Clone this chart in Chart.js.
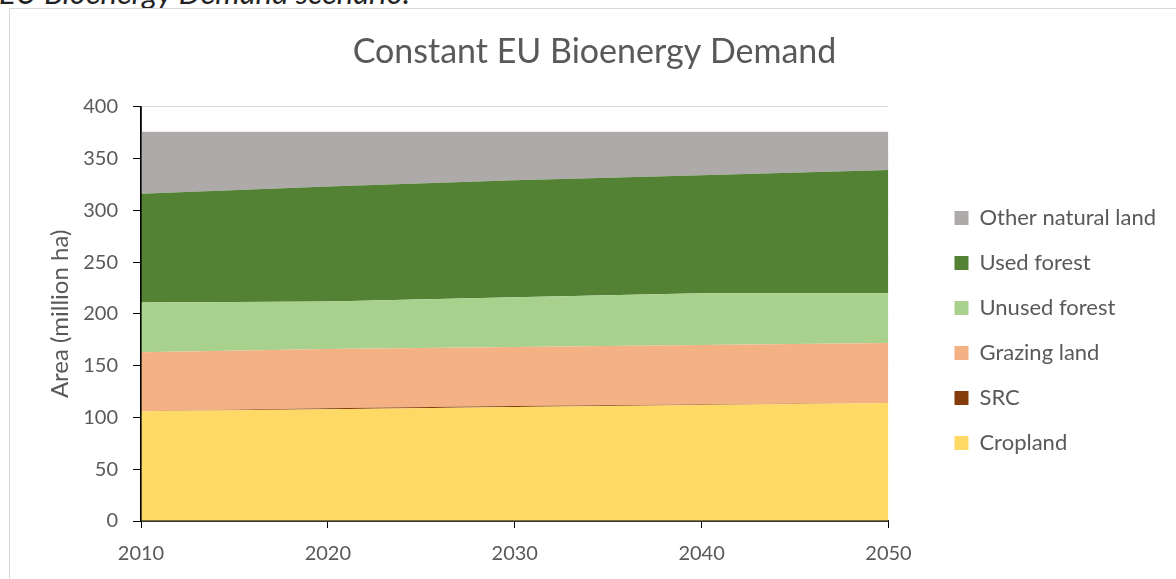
<!DOCTYPE html>
<html>
<head>
<meta charset="utf-8">
<script src="https://cdn.jsdelivr.net/npm/chart.js@4/dist/chart.umd.min.js"></script>
<style>
  body { margin: 0; background: #fff; overflow: hidden; }
  #cap { position: absolute; left: -1px; top: -27px; font: italic 31px Lato, sans-serif; color: #222; white-space: nowrap; }
  #frame { position: absolute; left: 9px; top: 8px; width: 1200px; height: 600px; border-left: 1px solid #d9d9d9; border-top: 1px solid #d9d9d9; pointer-events: none; }
  #wrap { position: absolute; left: 0; top: 0; width: 1176px; height: 579px; }
</style>
</head>
<body>
<div id="cap">EU Bioenergy Demand scenario.</div>
<div id="wrap"><canvas id="c" width="1176" height="579"></canvas></div>
<div id="frame"></div>
<script>
// land use, million ha
const years = ['2010', '2020', '2030', '2040', '2050'];
const cropland = [106, 108, 110, 112, 114];
const src = [0, 0.8, 1, 0.5, 0];
const grazing = [57, 57.2, 57, 57.5, 58];
const unusedForest = [48, 46, 48, 50, 48];
const usedForest = [105, 111, 113, 114, 119];
const otherNatural = [60, 53, 47, 42, 37];
const yTicks = [0, 50, 100, 150, 200, 250, 300, 350, 400];

const grey = '#595959';

function area(label, data, color, fill) {
    return {
        label: label,
        data: data,
        backgroundColor: color,
        borderColor: color,
        borderWidth: 0,
        pointRadius: 0,
        fill: fill
    };
}

// excel puts the legend further out and centres the title on the whole frame
const nudge = {
    id: 'nudge',
    afterLayout(chart) {
        const lg = chart.legend;
        lg.left += 43; lg.right += 43;
        lg.top += 41; lg.bottom += 41;
        const t = chart.titleBlock;
        t.left += 33; t.right += 33;
    },
    // axis lines sit on top of the filled areas
    afterDatasetsDraw(chart) {
        const {ctx, chartArea: a} = chart;
        ctx.save();
        ctx.strokeStyle = '#000';
        ctx.lineWidth = 1.2;
        ctx.beginPath();
        ctx.moveTo(a.left, a.top);
        ctx.lineTo(a.left, a.bottom);
        ctx.lineTo(a.right, a.bottom);
        ctx.stroke();
        ctx.restore();
    }
};

new Chart(document.getElementById('c'), {
    type: 'line',
    data: {
        labels: years,
        datasets: [
            area('Cropland', cropland, '#FFD966', 'origin'),
            area('SRC', src, '#843C0C', '-1'),
            area('Grazing land', grazing, '#F4B183', '-1'),
            area('Unused forest', unusedForest, '#A9D18E', '-1'),
            area('Used forest', usedForest, '#548235', '-1'),
            area('Other natural land', otherNatural, '#AEAAAA', '-1')
        ]
    },
    options: {
        responsive: false,
        animation: false,
        layout: { padding: { right: 53 } },
        plugins: {
            title: {
                display: true,
                text: 'Constant EU Bioenergy Demand',
                color: grey,
                font: { family: 'Lato', size: 34, weight: 'normal' },
                padding: { top: 32, bottom: 34 }
            },
            legend: {
                position: 'right',
                reverse: true,
                labels: {
                    color: grey,
                    font: { family: 'Lato', size: 22 },
                    boxWidth: 14,
                    boxHeight: 14,
                    padding: 23
                }
            },
            tooltip: { enabled: false }
        },
        scales: {
            x: {
                offset: false,
                border: { color: '#000', width: 1.5 },
                grid: { drawOnChartArea: false, tickColor: '#000', tickLength: 7 },
                ticks: { color: grey, font: { family: 'Lato', size: 20 }, padding: 14, maxRotation: 0 },
                afterFit(s) { s.height = 58; }
            },
            y: {
                stacked: true,
                min: 0,
                max: 400,
                afterBuildTicks(s) { s.ticks = yTicks.map(v => ({ value: v })); },
                border: { color: '#000', width: 1.5 },
                grid: { color: '#d9d9d9', tickColor: '#000', tickLength: 8 },
                ticks: { color: grey, font: { family: 'Lato', size: 20 }, padding: 15 },
                title: {
                    display: true,
                    text: 'Area (million ha)',
                    color: grey,
                    font: { family: 'Lato', size: 24 },
                    padding: { top: 46 }
                },
                afterFit(s) { s.width = 141; }
            }
        }
    },
    plugins: [nudge]
});
</script>
</body>
</html>
